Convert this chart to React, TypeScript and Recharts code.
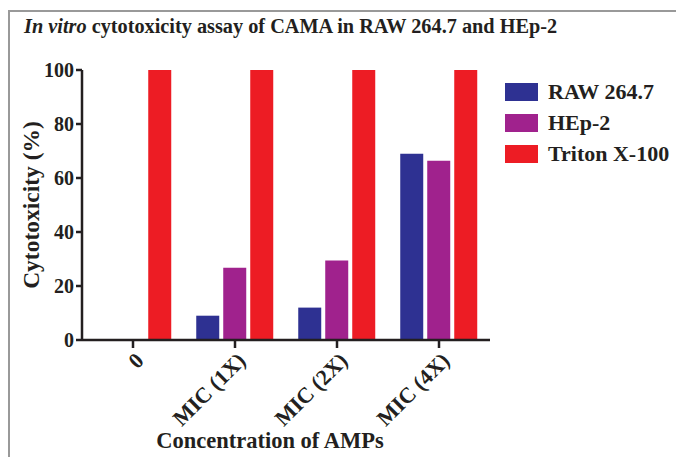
import React from 'react';
import { BarChart, Bar, XAxis, YAxis, Label } from 'recharts';

const categories = ['0', 'MIC (1X)', 'MIC (2X)', 'MIC (4X)'];
const raw264 = [0, 9, 12, 69];
const hep2 = [0, 26.8, 29.4, 66.4];
const triton = [100, 100, 100, 100];
const yTicks = [0, 20, 40, 60, 80, 100];

const seriesNames = ['RAW 264.7', 'HEp-2', 'Triton X-100'];
const seriesColors = ['#2e3192', '#a0228d', '#ed1c24'];

const data = categories.map((name, i) => ({
  name,
  raw: raw264[i],
  hep: hep2[i],
  triton: triton[i],
}));

const FONT = '"Liberation Serif", "DejaVu Serif", serif';
const INK = '#231f20';

// rotated category labels, text ends just right of the tick
const AngledTick = (props: any) => {
  const { x, y, payload } = props;
  const ax = x + 12;
  const ay = y + 12;
  return (
    <text
      x={ax}
      y={ay}
      transform={`rotate(-45, ${ax}, ${ay})`}
      textAnchor="end"
      fontFamily={FONT}
      fontWeight="bold"
      fontSize={22}
      fill={INK}
    >
      {payload.value}
    </text>
  );
};

const LegendBox = () => (
  <div style={{ fontFamily: FONT, fontWeight: 'bold', fontSize: 22, color: INK }}>
    {seriesNames.map((label, i) => (
      <div key={label} style={{ display: 'flex', alignItems: 'center', height: 31 }}>
        <span style={{ display: 'inline-block', width: 33, height: 18, background: seriesColors[i], marginRight: 10 }} />
        <span>{label}</span>
      </div>
    ))}
  </div>
);

export default function App() {
  return (
    <div style={{ position: 'absolute', left: 0, top: 0, width: 676, height: 457, background: '#fff', overflow: 'hidden' }}>
      <div
        style={{
          position: 'absolute',
          left: 8,
          top: 10,
          width: 700,
          height: 500,
          borderLeft: '2px solid #999',
          borderTop: '2px solid #999',
        }}
      />
      <div
        style={{
          position: 'absolute',
          left: 24,
          top: 15,
          fontFamily: FONT,
          fontWeight: 'bold',
          fontSize: 20.3,
          color: INK,
          whiteSpace: 'nowrap',
        }}
      >
        <i>In vitro</i> cytotoxicity assay of CAMA in RAW 264.7 and HEp-2
      </div>
      <div style={{ position: 'absolute', left: 505, top: 76 }}>
        <LegendBox />
      </div>
      <BarChart
        width={676}
        height={457}
        data={data}
        margin={{ top: 70, right: 186, left: 22, bottom: 37 }}
        barCategoryGap="12%"
        barGap={4}
        style={{ position: 'absolute', left: 0, top: 0 }}
      >
        <XAxis
          dataKey="name"
          height={80}
          axisLine={{ stroke: INK, strokeWidth: 2.5 }}
          tickLine={{ stroke: INK, strokeWidth: 2.5 }}
          tickSize={8}
          tick={<AngledTick />}
          interval={0}
        >
          <Label
            value="Concentration of AMPs"
            position="insideBottom"
            dx={-16}
            offset={-28}
            style={{ fontFamily: FONT, fontWeight: 'bold', fontSize: 22.5, fill: INK }}
          />
        </XAxis>
        <YAxis
          width={60}
          domain={[0, 100]}
          ticks={yTicks}
          interval={0}
          axisLine={{ stroke: INK, strokeWidth: 2.5 }}
          tickLine={{ stroke: INK, strokeWidth: 2.5 }}
          tickSize={6}
          tick={{ fontFamily: FONT, fontWeight: 'bold', fontSize: 20, fill: INK }}
        >
          <Label
            value="Cytotoxicity (%)"
            angle={-90}
            position="insideLeft"
            dx={4}
            style={{ fontFamily: FONT, fontWeight: 'bold', fontSize: 23.5, fill: INK, textAnchor: 'middle' }}
          />
        </YAxis>
        <Bar dataKey="raw" name={seriesNames[0]} fill={seriesColors[0]} isAnimationActive={false} />
        <Bar dataKey="hep" name={seriesNames[1]} fill={seriesColors[1]} isAnimationActive={false} />
        <Bar dataKey="triton" name={seriesNames[2]} fill={seriesColors[2]} isAnimationActive={false} />
      </BarChart>
    </div>
  );
}
